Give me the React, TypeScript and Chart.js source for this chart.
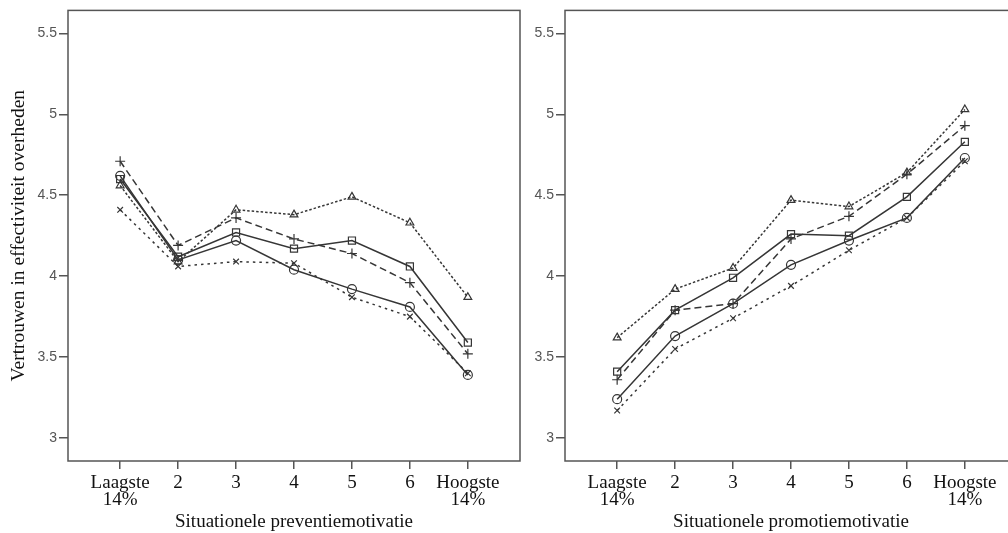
import React, { useEffect, useRef } from "react";
import { Chart, registerables } from "chart.js";

Chart.register(...registerables);

// ---- data ----
const xPositions = [1, 2, 3, 4, 5, 6, 7];
const xTickLabels: (string | string[])[] = [
  ["Laagste", "14%"], "2", "3", "4", "5", "6", ["Hoogste", "14%"],
];
const yTickValues = [3, 3.5, 4, 4.5, 5, 5.5];
const yTickLabels = ["3", "3.5", "4", "4.5", "5", "5.5"];

const yAxisTitle = "Vertrouwen in effectiviteit overheden";
const leftXTitle = "Situationele preventiemotivatie";
const rightXTitle = "Situationele promotiemotivatie";

// Left panel: preventie
const prevSquare = [4.60, 4.12, 4.27, 4.17, 4.22, 4.06, 3.59];
const prevCircle = [4.62, 4.10, 4.22, 4.04, 3.92, 3.81, 3.39];
const prevPlus = [4.71, 4.19, 4.36, 4.23, 4.14, 3.96, 3.52];
const prevTriangle = [4.56, 4.09, 4.41, 4.38, 4.49, 4.33, 3.87];
const prevCross = [4.41, 4.06, 4.09, 4.08, 3.87, 3.75, 3.40];

// Right panel: promotie
const promSquare = [3.41, 3.79, 3.99, 4.26, 4.25, 4.49, 4.83];
const promCircle = [3.24, 3.63, 3.83, 4.07, 4.22, 4.36, 4.73];
const promPlus = [3.36, 3.79, 3.83, 4.23, 4.37, 4.63, 4.93];
const promTriangle = [3.62, 3.92, 4.05, 4.47, 4.43, 4.64, 5.03];
const promCross = [3.17, 3.55, 3.74, 3.94, 4.16, 4.36, 4.71];

const LINE = "#363636";
const AXIS = "#555555";

const seriesStyles = [
  { pointStyle: "rect", radius: 5, dash: [] as number[] },
  { pointStyle: "circle", radius: 4.5, dash: [] as number[] },
  { pointStyle: "cross", radius: 5, dash: [7, 4] },
  { pointStyle: "triangle", radius: 4.5, dash: [2.5, 2] },
  { pointStyle: "crossRot", radius: 4, dash: [2.5, 4] },
];

const framePlugin = {
  id: "frame",
  afterDraw(chart: any) {
    const { ctx, chartArea } = chart;
    const { left, top, right, bottom } = chartArea;
    ctx.save();
    ctx.strokeStyle = AXIS;
    ctx.lineWidth = 1.5;
    ctx.strokeRect(left, top, right - left, bottom - top);
    ctx.restore();
  },
};

function makeDatasets(series: number[][]) {
  return series.map((vals, i) => {
    const s = seriesStyles[i];
    return {
      data: vals.map((v, j) => ({ x: xPositions[j], y: v })),
      borderColor: LINE,
      borderWidth: 1.5,
      borderDash: s.dash,
      pointStyle: s.pointStyle,
      pointRadius: s.radius,
      pointBorderColor: LINE,
      pointBackgroundColor: "rgba(0,0,0,0)",
      pointBorderWidth: 1.2,
      fill: false,
      tension: 0,
    };
  });
}

function makeOptions(xTitle: string, showYTitle: boolean, yWidth: number, padRight: number) {
  return {
    responsive: false,
    animation: false,
    layout: { padding: { top: 10, right: padRight, left: 0, bottom: 0 } },
    plugins: { legend: { display: false }, tooltip: { enabled: false } },
    scales: {
      x: {
        type: "linear",
        min: 0.1,
        max: 7.9,
        afterBuildTicks: (s: any) => {
          s.ticks = xPositions.map((v) => ({ value: v }));
        },
        afterFit: (s: any) => {
          s.height = 72;
        },
        ticks: {
          callback: (_v: any, idx: number) => xTickLabels[idx],
          font: { family: "'Liberation Serif', serif", size: 19, lineHeight: 0.88 },
          color: "#111",
          padding: 6,
          maxRotation: 0,
          autoSkip: false,
        },
        grid: { drawOnChartArea: false, drawTicks: true, tickLength: 8, color: AXIS, lineWidth: 1.5 },
        border: { display: false },
        title: {
          display: true,
          text: xTitle,
          font: { family: "'Liberation Serif', serif", size: 19 },
          color: "#111",
          padding: { top: 0, bottom: 0 },
        },
      },
      y: {
        type: "linear",
        min: 2.858,
        max: 5.642,
        afterBuildTicks: (s: any) => {
          s.ticks = yTickValues.map((v) => ({ value: v }));
        },
        afterFit: (s: any) => {
          s.width = yWidth;
        },
        ticks: {
          callback: (_v: any, idx: number) => yTickLabels[idx],
          font: { family: "'Liberation Sans', sans-serif", size: 14 },
          color: "#555",
          padding: 2,
        },
        grid: { drawOnChartArea: false, drawTicks: true, tickLength: 9, color: AXIS, lineWidth: 1.5 },
        border: { display: false },
        title: {
          display: showYTitle,
          text: yAxisTitle,
          font: { family: "'Liberation Serif', serif", size: 19.5 },
          color: "#111",
          padding: { top: 7, bottom: 0 },
        },
      },
    },
  };
}

function Panel(props: {
  left: number;
  width: number;
  series: number[][];
  xTitle: string;
  showYTitle: boolean;
  yWidth: number;
  padRight: number;
}) {
  const ref = useRef<HTMLCanvasElement | null>(null);
  useEffect(() => {
    if (!ref.current) return;
    const chart = new Chart(ref.current, {
      type: "line",
      data: { datasets: makeDatasets(props.series) as any },
      options: makeOptions(props.xTitle, props.showYTitle, props.yWidth, props.padRight) as any,
      plugins: [framePlugin],
    });
    return () => chart.destroy();
  }, []);
  return (
    <canvas
      ref={ref}
      width={props.width}
      height={533}
      style={{ position: "absolute", left: props.left, top: 0, width: props.width, height: 533 }}
    />
  );
}

export default function App() {
  return (
    <div
      style={{
        position: "fixed",
        left: 0,
        top: 0,
        width: 1008,
        height: 533,
        overflow: "hidden",
        background: "#fff",
      }}
    >
      <Panel
        left={0}
        width={545}
        series={[prevSquare, prevCircle, prevPlus, prevTriangle, prevCross]}
        xTitle={leftXTitle}
        showYTitle={true}
        yWidth={68}
        padRight={25}
      />
      <Panel
        left={525}
        width={500}
        series={[promSquare, promCircle, promPlus, promTriangle, promCross]}
        xTitle={rightXTitle}
        showYTitle={false}
        yWidth={40}
        padRight={8}
      />
    </div>
  );
}
